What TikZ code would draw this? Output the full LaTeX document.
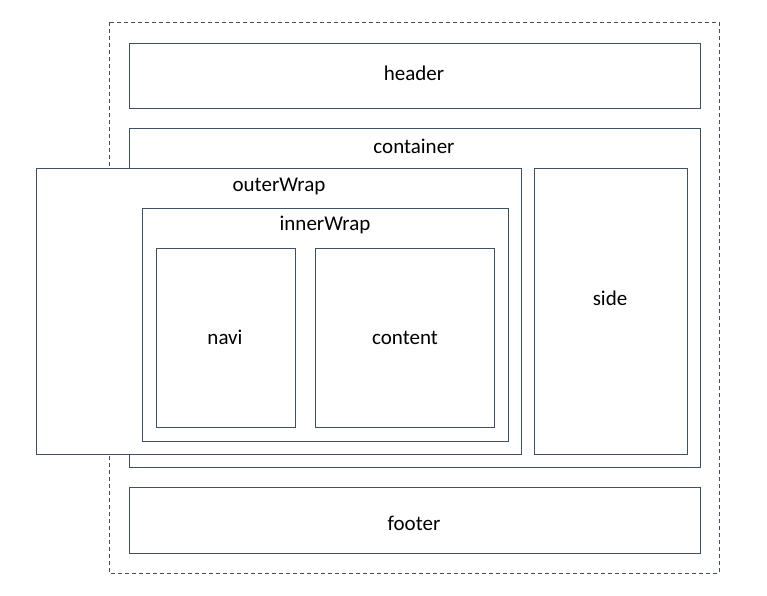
\documentclass[tikz,border=0pt]{standalone}
\usepackage{fontspec}
\setmainfont{Carlito}
\definecolor{edge}{RGB}{62,80,98}
\tikzset{
  box/.style={draw=edge, line width=0.9pt, fill=white},
  lbl/.style={font=\fontsize{21}{24}\selectfont, text=black, inner sep=0pt},
}
\begin{document}
\begin{tikzpicture}[x=1pt,y=-1pt]
\useasboundingbox (0,0) rectangle (767,595);
\draw[draw=edge, line width=0.8pt, dash pattern=on 4pt off 3pt] (109,22) rectangle (719,573);
\draw[box] (129,43) rectangle (700,108);
\node[lbl] (header) at (414,73) {header};
\draw[box] (129,128) rectangle (700,467);
\node[lbl] (container) at (414,146) {container};
\draw[box] (129,487) rectangle (700,553);
\node[lbl] (footer) at (414,523) {footer};
\draw[box] (534,168) rectangle (687,454);
\node[lbl] (side) at (610,298) {side};
\draw[box] (36,168) rectangle (521,454);
\node[lbl] (outer) at (279,186) {outerWrap};
\draw[box] (142,208) rectangle (508,441);
\node[lbl] (inner) at (325,225) {innerWrap};
\draw[box] (156,248) rectangle (295,427);
\node[lbl] (navi) at (225,337) {navi};
\draw[box] (315,248) rectangle (494,427);
\node[lbl] (content) at (405,338) {content};
\end{tikzpicture}
\end{document}
